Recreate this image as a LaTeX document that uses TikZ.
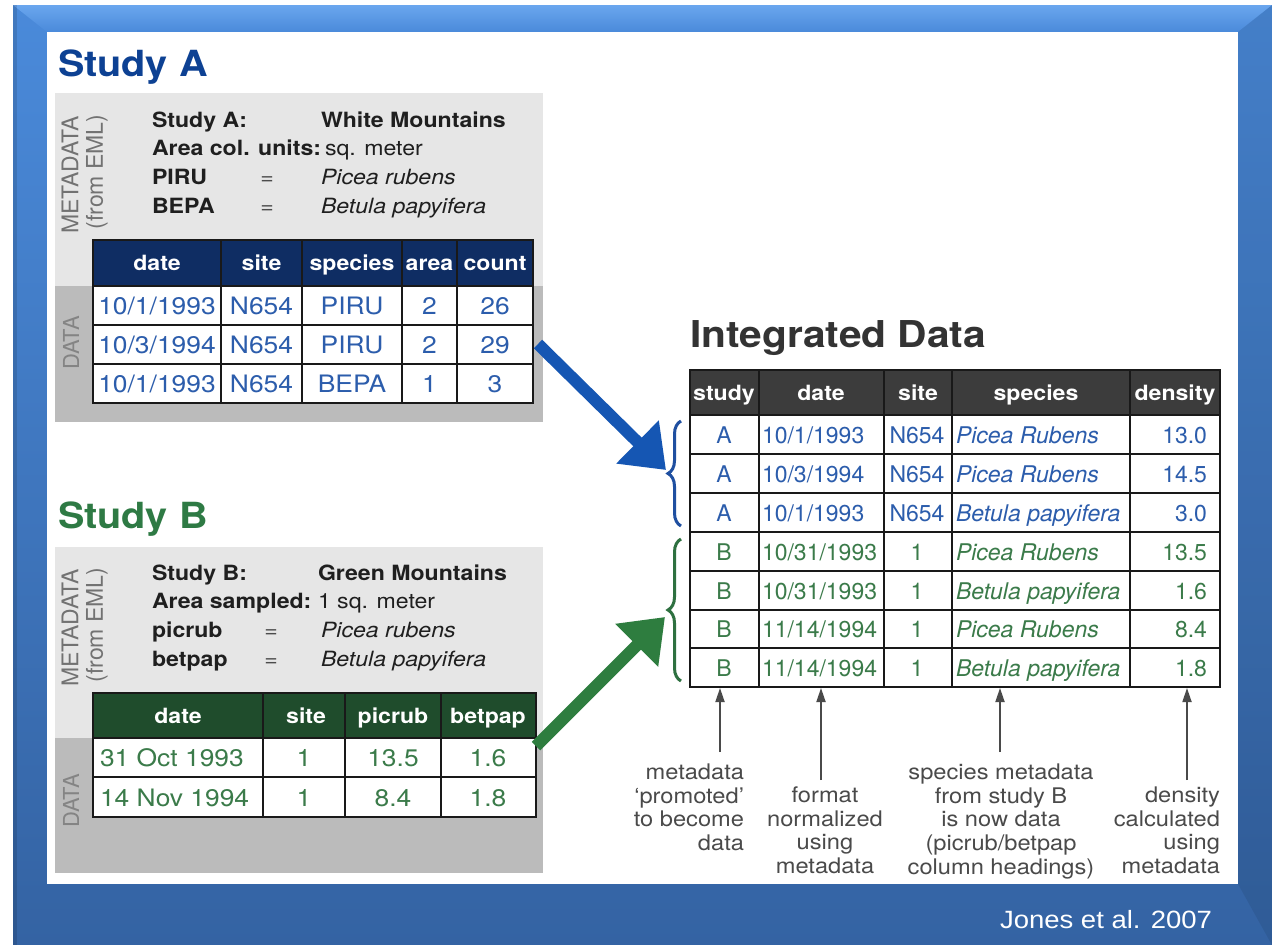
\documentclass[tikz,border=0pt]{standalone}
\usepackage{fontspec}
\usepackage{graphicx}
\setmainfont{TeX Gyre Heros}
\newfontfamily\slidefont{Liberation Sans}
\usetikzlibrary{arrows.meta,decorations.pathreplacing}

\definecolor{frametop}{HTML}{4A8ADA}
\definecolor{framebot}{HTML}{3463A3}
\definecolor{bevel}{HTML}{6AA6EE}
\definecolor{titleblue}{HTML}{0D4193}
\definecolor{navy}{HTML}{0F2D63}
\definecolor{datablue}{HTML}{2C5DAC}
\definecolor{titlegreen}{HTML}{2E7A44}
\definecolor{hdrgreen}{HTML}{1F4C2C}
\definecolor{datagreen}{HTML}{3B7B4A}
\definecolor{metagray}{HTML}{E6E6E6}
\definecolor{datagray}{HTML}{BBBBBB}
\definecolor{sidegray}{HTML}{727272}
\definecolor{sidegraydk}{HTML}{848484}
\definecolor{hdrgray}{HTML}{3C3C3C}
\definecolor{arrowblue}{HTML}{1556B3}
\definecolor{arrowgreen}{HTML}{2E7D3F}
\definecolor{braceblue}{HTML}{1F4FA0}
\definecolor{bracegreen}{HTML}{2E7040}
\definecolor{notegray}{HTML}{4A4A4A}

% slightly widened lettering
\newcommand\W[1]{\scalebox{1.1}[1]{#1}}
\newcommand\fs[1]{\fontsize{#1}{#1}\selectfont}

\tikzset{
  txt/.style={inner sep=0pt, outer sep=0pt},
  ttl/.style={txt, anchor=base west, font=\fs{36}\bfseries},
  meta/.style={txt, anchor=base west, font=\fs{21}, text=black!88},
  eq/.style={txt, anchor=base, font=\fs{21}, text=black!70},
  side/.style={txt, rotate=90, font=\fs{23}, text=sidegray},
  hdr/.style={txt, anchor=base, font=\fs{21}\bfseries, text=white},
  cellA/.style={txt, anchor=base, font=\fs{24}, text=datablue},
  cellB/.style={txt, anchor=base, font=\fs{24}, text=datagreen},
  cellI/.style={txt, font=\fs{23}},
  grid/.style={line width=2pt, black!90},
  note/.style={txt, font=\fontsize{21.5}{23.6}\selectfont, text=notegray},
  notearrow/.style={line width=1.8pt, notegray, -{Triangle[length=14pt,width=9pt]}},
  bigarrow/.style={line width=12pt, -{Triangle[length=40pt,width=58pt]}},
  curly/.style={line width=3pt, decorate, decoration={brace, amplitude=13pt}},
}

\newcommand\rowA[7]{%
  \node[cellA] (#1a) at (157,#2) {\W{#3}};
  \node[cellA] (#1b) at (261.5,#2) {\W{#4}};
  \node[cellA] (#1c) at (352,#2) {\W{#5}};
  \node[cellA] (#1d) at (429.5,#2) {\W{#6}};
  \node[cellA] (#1e) at (495,#2) {\W{#7}};}

\newcommand\rowB[6]{%
  \node[cellB, anchor=base west] (#1a) at (100,#2) {\W{#3}};
  \node[cellB] (#1b) at (304,#2) {\W{#4}};
  \node[cellB] (#1c) at (393,#2) {\W{#5}};
  \node[cellB] (#1d) at (488,#2) {\W{#6}};}

\newcommand\rowI[8]{%
  \node[cellI, text=#3, anchor=base] (#1s) at (724,#2) {#4};
  \node[cellI, text=#3, anchor=base west] (#1d) at (762,#2) {#5};
  \node[cellI, text=#3, anchor=base] (#1t) at (917,#2) {#6};
  \node[cellI, text=#3, anchor=base west] (#1p) at (956,#2) {\itshape #7};
  \node[cellI, text=#3, anchor=base east] (#1n) at (1207,#2) {#8};}

\begin{document}
\begin{tikzpicture}[x=1pt, y=-1pt]
\useasboundingbox (0,0) rectangle (1272,945);

% ---------- slide frame ----------
\fill[white] (0,0) rectangle (1272,945);
\shade[top color=frametop, bottom color=framebot] (13,5) rectangle (1272,945);
\shade[top color=bevel, bottom color=frametop] (13,5) -- (1272,5) -- (1238,32) -- (47,32) -- cycle;
\fill[black, opacity=0.08] (1272,5) -- (1238,32) -- (1238,884) -- (1272,945) -- cycle;
\fill[black, opacity=0.12] (13,5) rectangle (17,945);
\fill[white] (47,32) rectangle (1238,884);
\node[txt, anchor=base east, font=\slidefont\fs{25}, text=white] (cite) at (1212,928) {\W{Jones et al. 2007}};

% ---------- Study A ----------
\node[ttl, text=titleblue] (titleA) at (58,76) {\W{Study A}};
\fill[metagray] (55,93) rectangle (543,286);
\fill[datagray] (55,286) rectangle (543,422);
\node[side] (mdA) at (70,175) {METADATA};
\node[side] (emlA) at (97,172) {(from EML)};
\node[side, font=\fs{22}, text=sidegraydk] (dA) at (71,343) {DATA};

\node[meta] (mA1) at (152,127) {\W{\bfseries Study A:}};
\node[meta] (mA1v) at (321,127) {\W{\bfseries White Mountains}};
\node[meta] (mA2) at (152,155) {\W{\bfseries Area col. units:}};
\node[meta] (mA2v) at (325,155) {\W{sq. meter}};
\node[meta] (mA3) at (152,184) {\W{\bfseries PIRU}};
\node[eq] (mA3e) at (267,184) {\W{=}};
\node[meta] (mA3v) at (321,184) {\W{\itshape Picea rubens}};
\node[meta] (mA4) at (152,213) {\W{\bfseries BEPA}};
\node[eq] (mA4e) at (267,213) {\W{=}};
\node[meta] (mA4v) at (321,213) {\W{\itshape Betula papyifera}};

\fill[navy] (93,240) rectangle (533,286);
\fill[white] (93,286) rectangle (533,403);
\draw[grid] (93,240) rectangle (533,403);
\foreach \y in {286,325,364} \draw[grid] (93,\y) -- (533,\y);
\foreach \x in {221,302,402,457} \draw[grid] (\x,240) -- (\x,403);
\node[hdr] (hA1) at (157,270) {\W{date}};
\node[hdr] (hA2) at (261.5,270) {\W{site}};
\node[hdr] (hA3) at (352,270) {\W{species}};
\node[hdr] (hA4) at (429.5,270) {\W{area}};
\node[hdr] (hA5) at (495,270) {\W{count}};
\rowA{ra1}{314}{10/1/1993}{N654}{PIRU}{2}{26}
\rowA{ra2}{353}{10/3/1994}{N654}{PIRU}{2}{29}
\rowA{ra3}{392}{10/1/1993}{N654}{BEPA}{1}{3}

% ---------- Study B ----------
\node[ttl, text=titlegreen] (titleB) at (58,528) {\W{Study B}};
\fill[metagray] (55,547) rectangle (543,738);
\fill[datagray] (55,738) rectangle (543,873);
\node[side] (mdB) at (70,628) {METADATA};
\node[side] (emlB) at (97,625) {(from EML)};
\node[side, font=\fs{22}, text=sidegraydk] (dB) at (71,801) {DATA};

\node[meta] (mB1) at (152,580) {\W{\bfseries Study B:}};
\node[meta] (mB1v) at (318,580) {\W{\bfseries Green Mountains}};
\node[meta] (mB2) at (152,608) {\W{\bfseries Area sampled:}};
\node[meta] (mB2v) at (318,608) {\W{1 sq. meter}};
\node[meta] (mB3) at (152,637) {\W{\bfseries picrub}};
\node[eq] (mB3e) at (271,637) {\W{=}};
\node[meta] (mB3v) at (321,637) {\W{\itshape Picea rubens}};
\node[meta] (mB4) at (152,666) {\W{\bfseries betpap}};
\node[eq] (mB4e) at (271,666) {\W{=}};
\node[meta] (mB4v) at (321,666) {\W{\itshape Betula papyifera}};

\fill[hdrgreen] (93,693) rectangle (536,738);
\fill[white] (93,738) rectangle (536,817);
\draw[grid] (93,693) rectangle (536,817);
\draw[grid] (93,777) -- (536,777);
\draw[grid] (93,738) -- (536,738);
\foreach \x in {263,345,441} \draw[grid] (\x,693) -- (\x,817);
\node[hdr] (hB1) at (178,723) {\W{date}};
\node[hdr] (hB2) at (306,723) {\W{site}};
\node[hdr] (hB3) at (393,723) {\W{picrub}};
\node[hdr] (hB4) at (488,723) {\W{betpap}};
\rowB{rb1}{766}{31 Oct 1993}{1}{13.5}{1.6}
\rowB{rb2}{806}{14 Nov 1994}{1}{8.4}{1.8}

% ---------- Integrated Data ----------
\node[txt, anchor=base west, font=\fs{37}\bfseries, text=black!80] (titleI) at (690,347) {\W{Integrated Data}};
\fill[hdrgray] (690,370) rectangle (1220,415);
\fill[white] (690,415) rectangle (1220,687);
\draw[grid] (690,370) rectangle (1220,687);
\foreach \y in {415,454,493,532,571,610,648} \draw[grid] (690,\y) -- (1220,\y);
\foreach \x in {759,884,952,1130} \draw[grid] (\x,370) -- (\x,687);
\node[hdr] (hI1) at (724,400) {\W{study}};
\node[hdr] (hI2) at (821,400) {\W{date}};
\node[hdr] (hI3) at (918,400) {\W{site}};
\node[hdr] (hI4) at (1036,400) {\W{species}};
\node[hdr] (hI5) at (1175,400) {\W{density}};
\rowI{ri1}{443}{datablue}{A}{10/1/1993}{N654}{Picea Rubens}{13.0}
\rowI{ri2}{482}{datablue}{A}{10/3/1994}{N654}{Picea Rubens}{14.5}
\rowI{ri3}{521}{datablue}{A}{10/1/1993}{N654}{Betula papyifera}{3.0}
\rowI{ri4}{560}{datagreen}{B}{10/31/1993}{1}{Picea Rubens}{13.5}
\rowI{ri5}{599}{datagreen}{B}{10/31/1993}{1}{Betula papyifera}{1.6}
\rowI{ri6}{637.5}{datagreen}{B}{11/14/1994}{1}{Picea Rubens}{8.4}
\rowI{ri7}{676}{datagreen}{B}{11/14/1994}{1}{Betula papyifera}{1.8}

% ---------- braces grouping the rows of each study ----------
\coordinate (bAbot) at (681,526);
\coordinate (bAtop) at (681,421);
\coordinate (bBbot) at (681,681);
\coordinate (bBtop) at (681,539);
\draw[curly, braceblue] (bAbot) -- (bAtop);
\draw[curly, bracegreen] (bBbot) -- (bBtop);

% ---------- flow arrows ----------
\coordinate (fromA) at (538,344);
\coordinate (toA) at (666,470);
\coordinate (fromB) at (536,746);
\coordinate (toB) at (665,617);
\draw[bigarrow, arrowblue] (fromA) -- (toA);
\draw[bigarrow, arrowgreen] (fromB) -- (toB);

% ---------- annotations ----------
\node[note, anchor=north east, align=right] (n1) at (744,764)
  {\W{metadata}\\\W{`promoted'}\\\W{to become}\\\W{data}};
\node[note, anchor=north, align=center] (n2) at (825,787)
  {\W{format}\\\W{normalized}\\\W{using}\\\W{metadata}};
\node[note, anchor=north, align=center] (n3) at (1001,764)
  {\W{species metadata}\\\W{from study B}\\\W{is now data}\\\W{(picrub/betpap}\\\W{column headings)}};
\node[note, anchor=north east, align=right] (n4) at (1220,787)
  {\W{density}\\\W{calculated}\\\W{using}\\\W{metadata}};

\coordinate (a1s) at (720,752);  \coordinate (a1e) at (720,688);
\coordinate (a2s) at (821,780);  \coordinate (a2e) at (821,688);
\coordinate (a3s) at (1000,752); \coordinate (a3e) at (1000,688);
\coordinate (a4s) at (1187,780); \coordinate (a4e) at (1187,688);
\draw[notearrow] (a1s) -- (a1e);
\draw[notearrow] (a2s) -- (a2e);
\draw[notearrow] (a3s) -- (a3e);
\draw[notearrow] (a4s) -- (a4e);
\end{tikzpicture}
\end{document}
